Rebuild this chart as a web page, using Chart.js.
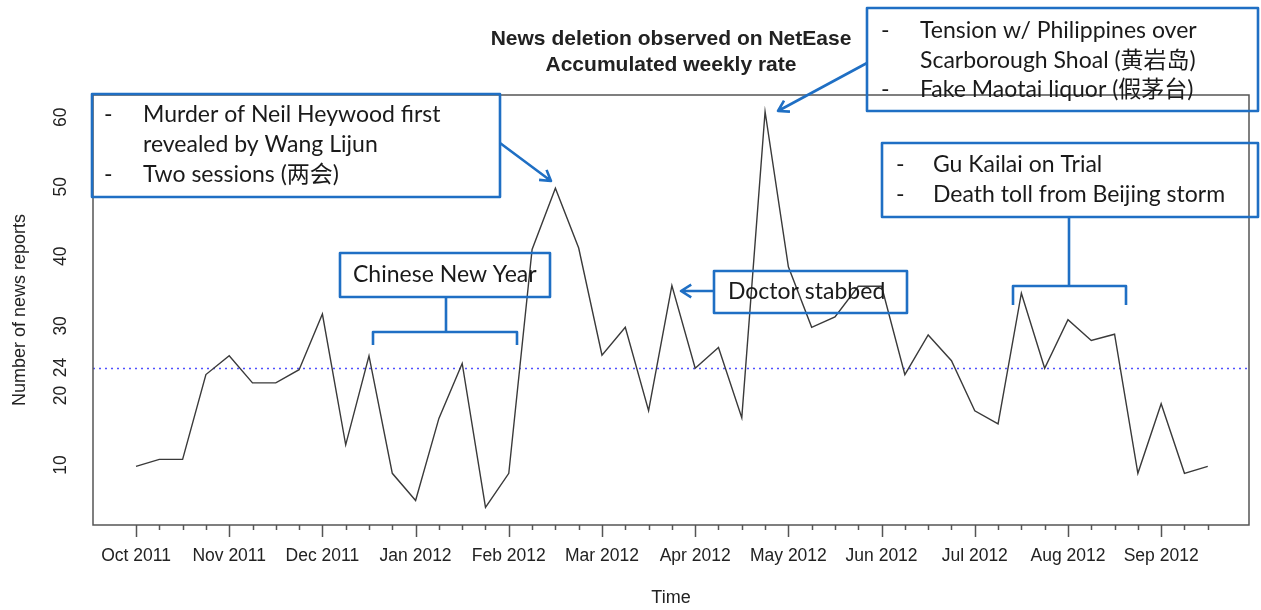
<!DOCTYPE html>
<html>
<head>
<meta charset="utf-8">
<script src="https://cdn.jsdelivr.net/npm/chart.js@4"></script>
<style>
  body { margin: 0; background: #fff; }
  canvas { display: block; }
</style>
</head>
<body>
<canvas id="chart" width="1261" height="610"></canvas>
<script>
// weekly points, Oct 2011 - Sep 2012 (4 ticks per month label)
const monthLabels = ['Oct 2011','Nov 2011','Dec 2011','Jan 2012','Feb 2012','Mar 2012',
                     'Apr 2012','May 2012','Jun 2012','Jul 2012','Aug 2012','Sep 2012'];
const weeklyCounts = [9.8,10.8,10.8,23,25.7,21.8,21.8,23.7,31.7,12.9,25.7,8.8,4.9,16.7,24.6,3.9,
                      8.8,41,49.8,41.2,25.8,29.8,17.8,35.8,23.9,26.9,16.8,60.8,38.5,29.8,31.3,35.7,
                      35.7,23,28.7,25,17.8,15.9,34.7,23.9,30.9,27.9,28.8,8.8,18.8,8.8,9.8];
const yTickValues = [10, 20, 24, 30, 40, 50, 60];
const meanLevel = 24;
const weeksPerMonth = 4;

const R_FONT = '"Liberation Sans", Arial, sans-serif';
const NOTE_FONT = 'Lato, "Noto Sans CJK SC", sans-serif';
const BLUE = '#1f6fc4';
const INK = '#222';

Chart.defaults.font.family = R_FONT;

// callout boxes drawn on top (pixel layout)
const notes = [
  { box: [92, 94, 500, 197], bullet: 104, left: 143,
    lines: [['-', 'Murder of Neil Heywood first', 115], ['', 'revealed by Wang Lijun', 145], ['-', 'Two sessions (两会)', 175]] },
  { box: [340, 253, 550, 297], left: 353, lines: [['', 'Chinese New Year', 275]] },
  { box: [714, 271, 907, 313], left: 728, lines: [['', 'Doctor stabbed', 292]] },
  { box: [867, 8, 1258, 111], bullet: 881, left: 920,
    lines: [['-', 'Tension w/ Philippines over', 31], ['', 'Scarborough Shoal (黄岩岛)', 61], ['-', 'Fake Maotai liquor (假茅台)', 90]] },
  { box: [882, 143, 1258, 217], bullet: 896, left: 933,
    lines: [['-', 'Gu Kailai on Trial', 165], ['-', 'Death toll from Beijing storm', 195]] }
];
const arrows = [
  [500, 143, 551, 181],
  [714, 291, 681, 291],
  [867, 63, 778, 111]
];
const brackets = [
  { stem: [446, 297, 332], span: [373, 517], drop: 345 },
  { stem: [1069, 217, 286], span: [1013, 1126], drop: 305 }
];

function arrow(ctx, x1, y1, x2, y2) {
  const a = Math.atan2(y2 - y1, x2 - x1), h = 12, w = 0.55;
  ctx.beginPath();
  ctx.moveTo(x1, y1); ctx.lineTo(x2, y2);
  ctx.moveTo(x2 - h * Math.cos(a - w), y2 - h * Math.sin(a - w));
  ctx.lineTo(x2, y2);
  ctx.lineTo(x2 - h * Math.cos(a + w), y2 - h * Math.sin(a + w));
  ctx.stroke();
}

const decor = {
  id: 'decor',
  beforeDatasetsDraw(chart) {
    const { ctx, chartArea: a, scales: { y } } = chart;
    const py = Math.round(y.getPixelForValue(meanLevel)) + 0.5;
    ctx.save();
    ctx.strokeStyle = 'rgb(80,80,255)';
    ctx.lineWidth = 1.3;
    ctx.setLineDash([2, 4]);
    ctx.beginPath(); ctx.moveTo(a.left, py); ctx.lineTo(a.right, py); ctx.stroke();
    ctx.restore();
  },
  afterDraw(chart) {
    const { ctx, chartArea: a, scales: { x, y } } = chart;
    ctx.save();

    // plot box + weekly ticks
    ctx.strokeStyle = '#555';
    ctx.lineWidth = 1.5;
    ctx.strokeRect(a.left, a.top, a.right - a.left, a.bottom - a.top);
    ctx.beginPath();
    weeklyCounts.forEach((_, i) => {
      const px = Math.round(x.getPixelForValue(i)) + 0.5;
      ctx.moveTo(px, a.bottom);
      ctx.lineTo(px, a.bottom + (i % weeksPerMonth === 0 ? 12 : 5));
    });
    ctx.stroke();

    // y tick labels, rotated like base R
    ctx.fillStyle = INK;
    ctx.font = '17.5px ' + R_FONT;
    ctx.textAlign = 'center';
    ctx.textBaseline = 'middle';
    yTickValues.forEach(v => {
      ctx.save();
      ctx.translate(61, y.getPixelForValue(v));
      ctx.rotate(-Math.PI / 2);
      ctx.fillText(String(v), 0, 0);
      ctx.restore();
    });

    // axis titles
    ctx.font = '18px ' + R_FONT;
    ctx.save();
    ctx.translate(20, (a.top + a.bottom) / 2);
    ctx.rotate(-Math.PI / 2);
    ctx.fillText('Number of news reports', 0, 0);
    ctx.restore();
    const cx = (a.left + a.right) / 2;
    ctx.fillText('Time', cx, 598);

    // main title
    ctx.font = 'bold 21px ' + R_FONT;
    ctx.fillText('News deletion observed on NetEase', cx, 39);
    ctx.fillText('Accumulated weekly rate', cx, 65);

    // callouts
    ctx.font = '100px ' + NOTE_FONT;
    const noteSize = 100 * 297 / ctx.measureText('Murder of Neil Heywood first').width;
    ctx.font = noteSize.toFixed(1) + 'px ' + NOTE_FONT;
    ctx.textAlign = 'left';
    ctx.fillStyle = '#1a1a1a';
    ctx.strokeStyle = BLUE;
    ctx.lineWidth = 2.6;
    ctx.lineJoin = 'round';
    notes.forEach(n => {
      const [x1, y1, x2, y2] = n.box;
      ctx.strokeRect(x1, y1, x2 - x1, y2 - y1);
      n.lines.forEach(([b, t, ly]) => {
        if (b) ctx.fillText(b, n.bullet, ly);
        ctx.fillText(t, n.left, ly);
      });
    });
    arrows.forEach(p => arrow(ctx, ...p));
    brackets.forEach(b => {
      ctx.beginPath();
      ctx.moveTo(b.stem[0], b.stem[1]); ctx.lineTo(b.stem[0], b.stem[2]);
      ctx.moveTo(b.span[0], b.drop); ctx.lineTo(b.span[0], b.stem[2]);
      ctx.lineTo(b.span[1], b.stem[2]); ctx.lineTo(b.span[1], b.drop);
      ctx.stroke();
    });
    ctx.restore();
  }
};

new Chart(document.getElementById('chart'), {
  type: 'line',
  data: {
    datasets: [{
      data: weeklyCounts.map((v, i) => ({ x: i, y: v })),
      borderColor: '#3a3a3a',
      borderWidth: 1.4,
      pointRadius: 0,
      tension: 0,
      fill: false
    }]
  },
  options: {
    responsive: false,
    animation: false,
    devicePixelRatio: 1,
    layout: { padding: { top: 95, right: 12, left: 0, bottom: 0 } },
    plugins: { legend: { display: false }, tooltip: { enabled: false } },
    scales: {
      x: {
        type: 'linear',
        min: -1.846,
        max: 47.77,
        afterBuildTicks: s => { s.ticks = weeklyCounts.map((_, i) => ({ value: i })); },
        afterFit: s => { s.height = 85; },
        grid: { display: false, drawTicks: false },
        border: { display: false },
        ticks: {
          autoSkip: false,
          maxRotation: 0,
          padding: 21,
          color: INK,
          font: { size: 17.5 },
          callback: v => (v % weeksPerMonth === 0 ? monthLabels[v / weeksPerMonth] : '')
        }
      },
      y: {
        min: 1.37,
        max: 63.2,
        afterBuildTicks: s => { s.ticks = yTickValues.map(v => ({ value: v })); },
        afterFit: s => { s.width = 93; },
        grid: { display: false, drawTicks: false },
        border: { display: false },
        ticks: { display: false }
      }
    }
  },
  plugins: [decor]
});
</script>
</body>
</html>
